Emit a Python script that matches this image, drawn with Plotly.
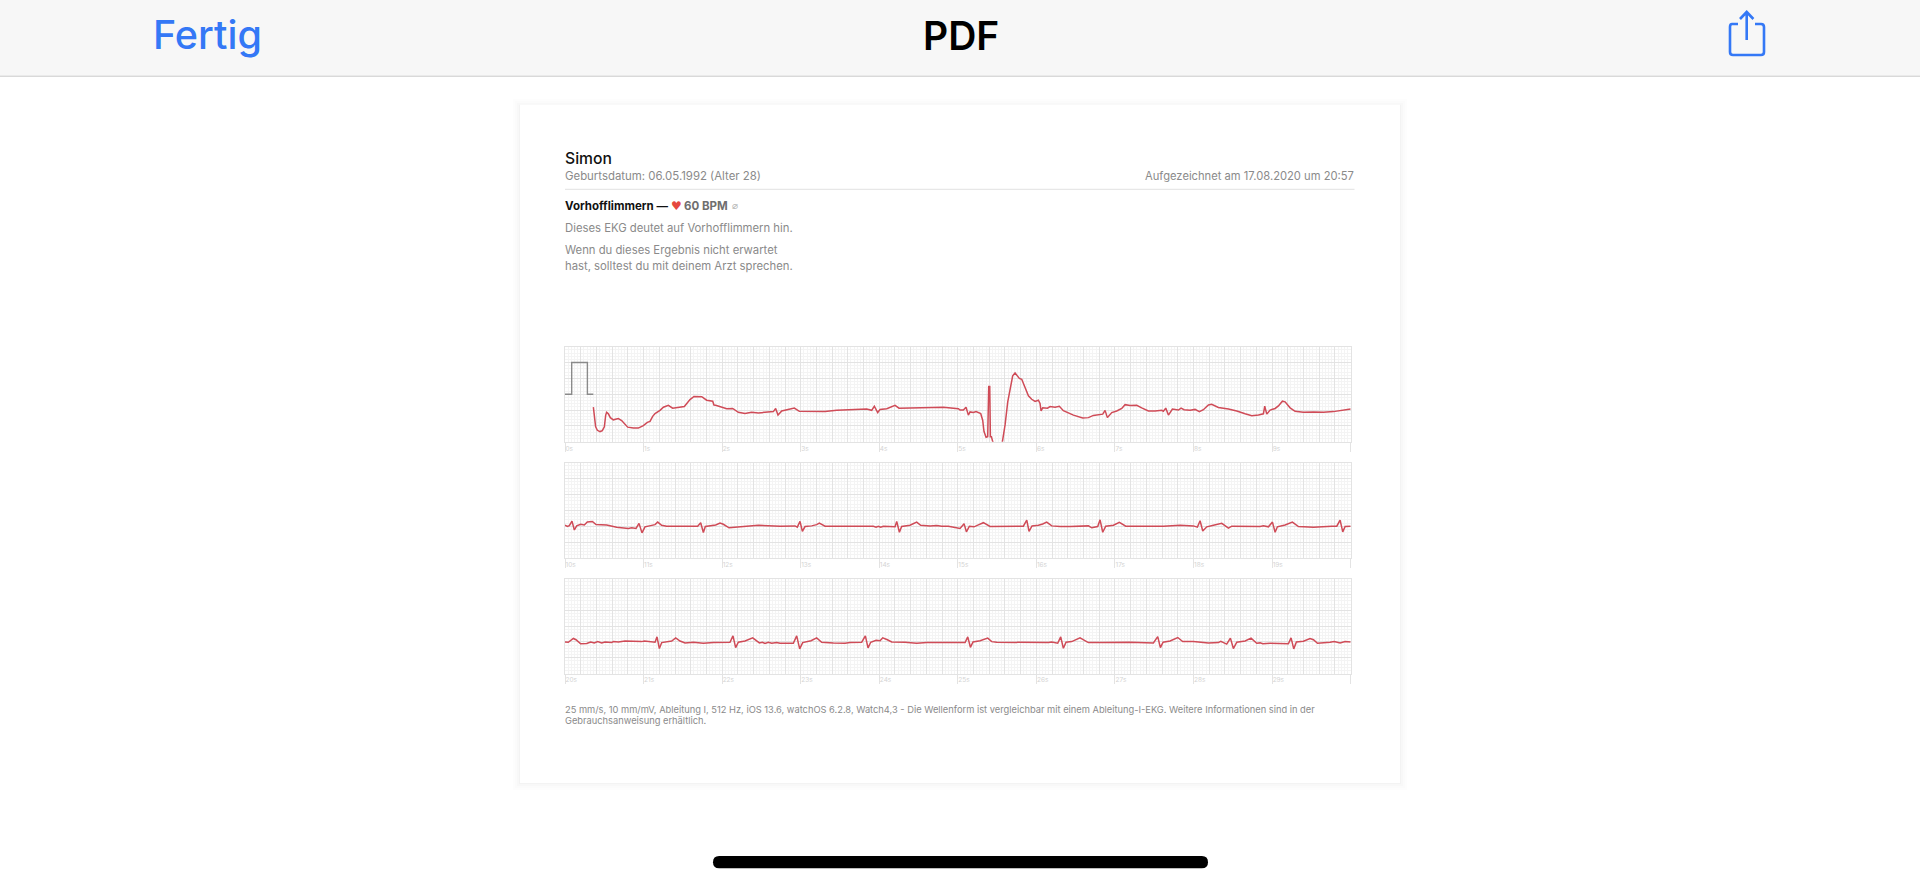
import plotly.graph_objects as go

# ---------- data: seconds and millivolts above each strip's lower edge ----------
pulse_t = [0, 0.085, 0.085, 0.285, 0.285, 0.36]
pulse_mv = [1.5, 1.5, 2.5, 2.5, 1.5, 1.5]

strip1_t = [0.361,0.373,0.390,0.412,0.445,0.475,0.501,0.518,0.530,0.552,0.577,0.615,0.679,0.721,0.764,0.798,0.870,0.933,0.997,1.048,1.082,1.116,1.146,1.209,1.252,1.315,1.370,1.443,1.519,1.591,1.642,1.740,1.803,1.880,1.896,1.918,1.973,2.058,2.134,2.206,2.291,2.376,2.461,2.567,2.652,2.681,2.711,2.758,2.843,2.919,2.983,3.119,3.310,3.458,3.628,3.819,3.840,3.903,3.937,3.980,4.010,4.095,4.201,4.251,4.391,4.604,4.816,5.007,
            5.028,5.070,5.104,5.134,5.155,5.198,5.232,5.291,5.316,5.333,5.359,5.380,5.393,5.406,5.414,5.427,5.444,5.495,5.537,5.567,5.601,5.635,5.664,5.698,5.728,5.758,5.783,5.813,5.855,5.898,5.940,5.983,6.025,6.046,6.059,6.080,6.140,6.174,6.237,6.292,6.343,6.471,6.589,6.662,6.725,6.810,6.844,6.874,6.903,6.959,7.022,7.086,7.128,7.192,7.277,7.340,7.425,7.510,7.595,7.616,7.646,7.680,7.731,7.807,7.841,7.879,7.956,8.019,8.074,8.125,8.189,8.231,8.316,8.444,8.550,8.656,8.741,8.826,8.889,8.906,8.932,8.974,9.038,9.080,9.131,9.165,9.229,9.292,9.398,9.526,9.653,9.780,9.908,10.0]
strip1_mv = [1.09,.74,.47,.36,.32,.35,.47,.84,.93,.88,.76,.69,.73,.67,.56,.46,.43,.43,.51,.61,.64,.80,.89,.99,1.09,1.15,1.06,1.09,1.11,1.33,1.43,1.42,1.31,1.28,1.16,1.15,1.11,1.04,1.05,.93,.89,.93,.91,.93,.95,1.05,.84,.97,1.02,1.06,.96,.95,.95,.99,1.00,1.01,1.03,.99,1.12,.92,1.02,1.04,1.15,1.06,1.07,1.09,1.09,1.04,
             1.00,1.00,1.09,.84,.94,.92,.95,.89,.68,.32,.14,.16,1.74,1.74,.16,.16,0,-.26,-.21,0,.53,1.26,1.63,2.08,2.17,2.08,2.00,1.97,1.68,1.45,1.34,1.27,1.31,1.21,.97,1.07,1.06,1.11,1.09,1.12,.98,.84,.75,.76,.83,.85,.87,.99,.76,.92,.97,1.05,1.17,1.14,1.15,1.07,.97,.97,.99,.96,1.06,.84,1.03,1.00,1.06,1.01,.99,1.02,.95,1.01,1.16,1.18,1.08,1.03,.97,.88,.82,.84,.88,1.12,.87,1.00,1.05,1.13,1.28,1.26,1.07,.96,.93,.94,.93,.95,1.01,1.03]

strip2_t = [10.000,10.030,10.055,10.089,10.119,10.149,10.199,10.246,10.284,10.348,10.395,10.530,10.658,10.806,10.849,10.904,10.942,10.980,11.018,11.103,11.146,11.180,11.230,11.294,11.506,11.689,11.727,11.761,11.786,11.854,11.918,11.973,12.015,12.088,12.228,12.461,12.737,12.928,12.957,12.991,13.021,13.055,13.140,13.203,13.237,13.310,13.543,13.925,13.959,13.988,14.018,14.052,14.201,14.222,14.256,14.285,14.391,14.476,14.527,14.646,14.731,14.795,14.880,15.028,
            15.079,15.109,15.147,15.206,15.261,15.325,15.410,15.580,15.834,15.877,15.906,15.944,16.025,16.080,16.131,16.195,16.301,16.428,16.619,16.662,16.704,16.780,16.810,16.844,16.882,16.980,17.056,17.137,17.362,17.616,17.828,17.913,17.998,18.049,18.083,18.117,18.168,18.253,18.359,18.444,18.486,18.847,18.889,18.953,19.004,19.038,19.067,19.165,19.258,19.335,19.526,19.759,19.823,19.865,19.899,19.929,20.0]
strip2_mv = [1.03,.99,1.02,1.16,.88,1.01,1.06,1.04,1.13,1.15,1.05,1.04,.97,.93,.95,.93,1.09,.79,.98,1.03,1.05,1.13,1.03,1.00,1.01,1.00,1.11,.80,.99,1.01,1.04,1.10,1.06,.95,.98,1.03,1.00,1.01,.97,1.15,.84,.99,1.01,1.05,1.10,1.00,1.00,1.00,.97,1.00,.97,1.00,.98,1.15,.81,.99,1.03,1.13,1.03,1.01,1.02,1.00,1.00,.93,
             1.08,.82,1.00,.98,1.04,1.11,.99,1.00,1.00,1.19,.84,1.01,1.03,1.07,1.13,1.01,.99,.99,.99,1.01,.95,.99,1.20,.81,1.00,1.03,1.12,1.00,1.00,1.00,1.03,1.01,1.01,.97,1.17,.85,.98,1.03,1.09,.94,1.00,.99,1.01,.98,1.13,.81,.98,1.04,1.13,.99,.97,1.00,1.00,1.19,.82,.99,1.00]

strip3_t = [20.000,20.042,20.106,20.140,20.199,20.276,20.327,20.373,20.416,20.467,20.509,20.594,20.615,20.679,20.764,20.870,20.976,21.010,21.082,21.146,21.171,21.201,21.231,21.315,21.358,21.409,21.464,21.528,21.634,21.761,21.888,22.100,22.138,22.172,22.206,22.291,22.389,22.474,22.512,22.546,22.588,22.631,22.694,22.737,22.906,22.949,22.987,23.025,23.068,23.131,23.203,23.267,23.416,23.564,23.628,23.776,23.823,23.857,23.891,23.959,24.010,24.044,24.103,24.158,24.328,24.476,24.604,24.773,25.007,
            25.092,25.126,25.160,25.193,25.283,25.380,25.431,25.495,25.707,26.152,26.195,26.271,26.309,26.343,26.377,26.449,26.555,26.606,26.661,26.852,27.192,27.489,27.544,27.578,27.612,27.701,27.799,27.862,27.998,28.189,28.316,28.346,28.422,28.469,28.507,28.550,28.656,28.732,28.804,28.847,28.881,28.974,29.207,29.241,29.275,29.309,29.398,29.483,29.526,29.577,29.674,29.738,29.789,29.865,29.929,30.0]
strip3_mv = [1.00,.99,1.11,1.07,.94,.95,1.00,.97,1.01,.97,1.00,.98,1.01,1.00,1.03,1.01,1.01,1.03,1.01,.99,1.16,.79,.98,1.00,1.03,1.13,1.03,.97,.99,.96,.98,.99,1.19,.82,.99,1.03,1.13,.97,.99,.95,.99,.96,.98,.96,.96,1.19,.78,.98,1.01,1.04,1.13,.99,.97,.96,.98,.99,1.19,.81,.99,1.05,1.04,1.13,1.07,1.00,.99,.96,.98,.98,1.00,
             .98,1.16,.83,1.00,1.04,1.12,1.01,.99,.98,.98,1.00,.96,1.16,.80,.99,1.01,1.13,1.07,.98,.98,.99,.97,1.17,.82,.99,1.03,1.14,1.01,1.01,.97,.98,1.02,.93,1.12,.79,.99,1.03,1.12,.96,.97,.94,.96,.94,1.13,.78,1.00,1.02,1.11,1.07,.96,.97,.99,1.01,.97,1.01,1.00]

strips = [
    dict(start=0,  t=strip1_t, mv=strip1_mv, top=346.7, bottom=441.7),
    dict(start=10, t=strip2_t, mv=strip2_mv, top=462.8, bottom=557.9),
    dict(start=20, t=strip3_t, mv=strip3_mv, top=578.8, bottom=673.5),
]

W, H = 1920, 887
RED = "#cf4b57"
BLUE = "#3478f6"
GRID = "#e3e3e3"
FINE = "#f4f4f4"
TXT = "#8a8a8a"
FONT = "Inter, Roboto, sans-serif"

def fx(x): return x / W
def fy(y): return 1 - y / H

def rect(x0, y0, x1, y1, fill, line=None, layer="below"):
    return dict(type="rect", xref="paper", yref="paper", x0=fx(x0), x1=fx(x1), y0=fy(y1), y1=fy(y0),
                fillcolor=fill, line=dict(width=0) if line is None else dict(color=line, width=1), layer=layer)

def pline(x0, y0, x1, y1, color, width=1, layer="below"):
    return dict(type="line", xref="paper", yref="paper", x0=fx(x0), x1=fx(x1), y0=fy(y0), y1=fy(y1),
                line=dict(color=color, width=width), layer=layer)

def label(x, y, text, size, color, anchor="left", weight=400, family=FONT):
    return dict(xref="paper", yref="paper", x=fx(x), y=fy(y), text=text, showarrow=False, xanchor=anchor,
                yanchor="middle", align=anchor, borderpad=0,
                font=dict(size=size, color=color, family=family, weight=weight))

fig = go.Figure()
layout = dict(width=W, height=H, margin=dict(l=0, r=0, t=0, b=0), paper_bgcolor="white", plot_bgcolor="rgba(0,0,0,0)",
              showlegend=False, hovermode=False)

for i, s in enumerate(strips):
    n = i + 1
    main, over = f"x{n}" if n > 1 else "x", f"x{n + 3}"
    y = f"y{n}" if n > 1 else "y"
    dom_x = [fx(565), fx(1350.7)]
    dom_y = [fy(s["bottom"]), fy(s["top"])]
    rng = [s["start"], s["start"] + 10]
    layout[f"xaxis{n if n > 1 else ''}"] = dict(
        domain=dom_x, range=rng, anchor=y, dtick=0.2, tick0=0, showgrid=True, gridcolor=GRID, gridwidth=1,
        minor=dict(dtick=0.04, tick0=0, showgrid=True, gridcolor=FINE, gridwidth=1, ticks=""),
        ticks="", showticklabels=False, zeroline=False, showline=True, mirror=True, linecolor=GRID, linewidth=1)
    layout[f"yaxis{n if n > 1 else ''}"] = dict(
        domain=dom_y, range=[0, 3], anchor=main, dtick=0.5, tick0=0, showgrid=True, gridcolor=GRID, gridwidth=1,
        minor=dict(dtick=0.1, tick0=0, showgrid=True, gridcolor=FINE, gridwidth=1, ticks=""),
        ticks="", showticklabels=False, zeroline=False, showline=True, mirror=True, linecolor=GRID, linewidth=1)
    secs = list(range(s["start"], s["start"] + 11))
    layout[f"xaxis{n + 3}"] = dict(
        overlaying=main, anchor=y, side="bottom", range=rng, tickmode="array", tickvals=secs,
        ticktext=[f"{v}s" for v in secs[:-1]] + [""], ticks="outside", ticklen=9, tickwidth=1, tickcolor=GRID,
        ticklabelposition="outside right", ticklabelstandoff=0,
        tickfont=dict(size=6.5, color="#d4d4d4", family=FONT), showgrid=False, zeroline=False, showline=False)
    if i == 0:
        fig.add_trace(go.Scatter(x=pulse_t, y=pulse_mv, mode="lines", line=dict(color="#8a8a8a", width=1.4),
                                 xaxis=main, yaxis=y))
    else:
        fig.add_trace(go.Scatter(x=[], y=[], mode="lines", xaxis=main, yaxis=y))
    fig.add_trace(go.Scatter(x=s["t"], y=s["mv"], mode="lines", line=dict(color=RED, width=1.5),
                             xaxis=over, yaxis=y))

# page chrome
shapes = []
for k, a in [(7, .006), (5, .009), (3, .013), (1, .02)]:
    shapes.append(rect(520 - k, 104.7 - k + 1, 1400 + k, 783 + k, f"rgba(0,0,0,{a})"))

def bar_path(x0, y0, x1, y1):
    r = (y1 - y0) / 2
    return (f"M {fx(x0 + r)} {fy(y0)} L {fx(x1 - r)} {fy(y0)} Q {fx(x1)} {fy(y0)} {fx(x1)} {fy(y0 + r)} "
            f"Q {fx(x1)} {fy(y1)} {fx(x1 - r)} {fy(y1)} L {fx(x0 + r)} {fy(y1)} "
            f"Q {fx(x0)} {fy(y1)} {fx(x0)} {fy(y0 + r)} Q {fx(x0)} {fy(y0)} {fx(x0 + r)} {fy(y0)} Z")

shapes += [
    rect(520, 104.7, 1400, 783, "white"),
    rect(0, 0, W, 75.5, "#f7f7f7"),
    rect(0, 75.5, W, 77, "#d9d9d9"),
    pline(565, 189.3, 1354.5, 189.3, "#e2e2e2", 1),
    dict(type="path", xref="paper", yref="paper", layer="below", fillcolor="black", line=dict(width=0),
         path=bar_path(713, 856, 1208, 868.3)),
    # share icon
    dict(type="path", xref="paper", yref="paper", layer="above", line=dict(color=BLUE, width=2.6), path=(
        f"M {fx(1738)} {fy(24)} L {fx(1732)} {fy(24)} Q {fx(1730)} {fy(24)} {fx(1730)} {fy(27)} "
        f"L {fx(1730)} {fy(52)} Q {fx(1730)} {fy(55)} {fx(1733)} {fy(55)} L {fx(1761)} {fy(55)} "
        f"Q {fx(1764)} {fy(55)} {fx(1764)} {fy(52)} L {fx(1764)} {fy(27)} Q {fx(1764)} {fy(24)} {fx(1761)} {fy(24)} L {fx(1755)} {fy(24)}")),
    dict(type="path", xref="paper", yref="paper", layer="above", line=dict(color=BLUE, width=2.6), path=(
        f"M {fx(1746.7)} {fy(40)} L {fx(1746.7)} {fy(12)} M {fx(1740)} {fy(19)} L {fx(1746.7)} {fy(12)} L {fx(1753.4)} {fy(19)}")),
]
layout["shapes"] = shapes

layout["annotations"] = [
    label(152, 35.5, "Fertig", 39.5, BLUE, weight=500),
    label(960.5, 35.5, "PDF", 39, "#000000", anchor="center", weight=600),
    label(564.3, 158, "Simon", 15.7, "#111111", weight=500),
    label(564.3, 176, "Geburtsdatum: 06.05.1992 (Alter 28)", 11.4, TXT),
    label(1354.5, 176, "Aufgezeichnet am 17.08.2020 um 20:57", 11.2, TXT, anchor="right"),
    label(564.3, 206, "Vorhofflimmern —", 11.5, "#111111", weight=700),
    label(676.6, 205.5, "♥", 12, "#e5483f", anchor="center", family="DejaVu Sans"),
    label(683, 206, "60 BPM", 11.5, "#6f6f6f", weight=700),
    label(734.5, 206, "⌀", 10, "#b5b5b5", anchor="center", family="DejaVu Sans"),
    label(564.3, 228, "Dieses EKG deutet auf Vorhofflimmern hin.", 11.3, TXT),
    label(564.3, 250, "Wenn du dieses Ergebnis nicht erwartet", 11.3, TXT),
    label(564.3, 266, "hast, solltest du mit deinem Arzt sprechen.", 11.3, TXT),
    label(564.3, 709, "25 mm/s, 10 mm/mV, Ableitung I, 512 Hz, iOS 13.6, watchOS 6.2.8, Watch4,3 - Die Wellenform ist vergleichbar mit einem Ableitung-I-EKG. Weitere Informationen sind in der", 9.3, TXT),
    label(564.3, 720, "Gebrauchsanweisung erhältlich.", 9.3, TXT),
]

fig.update_layout(**layout)
fig.write_html("out.html", config=dict(displayModeBar=False, responsive=False),
               post_script="document.body.style.margin='0';document.body.style.overflow='hidden';")
